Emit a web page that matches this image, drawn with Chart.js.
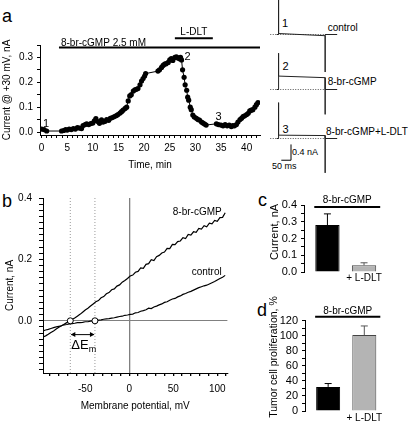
<!DOCTYPE html>
<html><head><meta charset="utf-8">
<script src="https://cdn.jsdelivr.net/npm/chart.js@4/dist/chart.umd.min.js"></script>
<style>
html,body{margin:0;padding:0;background:#fff;}
body{width:408px;height:422px;position:relative;overflow:hidden;font-family:"Liberation Sans",Arial,Helvetica,sans-serif;}
canvas{position:absolute;}
.t{position:absolute;white-space:nowrap;color:#000;line-height:1;}
.L{font-size:18px;}
</style></head><body>
<div class="t L" style="left:2px;top:7px;">a</div>
<div class="t L" style="left:2px;top:192px;">b</div>
<div class="t L" style="left:258px;top:191px;">c</div>
<div class="t L" style="left:257px;top:301px;">d</div>
<div class="t" style="left:282px;top:17.5px;font-size:11px;">1</div>
<div class="t" style="left:327.7px;top:22.5px;font-size:10px;">control</div>
<div class="t" style="left:282.5px;top:61px;font-size:11px;">2</div>
<div class="t" style="left:327.7px;top:76.7px;font-size:10px;">8-br-cGMP</div>
<div class="t" style="left:282.5px;top:123.5px;font-size:11px;">3</div>
<div class="t" style="left:326px;top:126.7px;font-size:10px;">8-br-cGMP+L-DLT</div>
<div class="t" style="left:292px;top:147.8px;font-size:9px;">0.4 nA</div>
<div class="t" style="left:272px;top:161.5px;font-size:9px;">50 ms</div>
<script>
// ---------- Panel a: time course ----------
const timeMin = [
  0, 0.5, 1.0,
  3.9, 4.3, 4.7, 5.0, 5.4, 5.8, 6.2, 6.6, 7.0, 7.4, 7.8,
  8.1, 8.5, 8.8, 9.2, 9.6, 10.0,
  10.3, 10.6, 11.0, 11.3, 11.7, 12.0,
  12.4, 12.7, 13.1, 13.4, 13.8, 14.2,
  14.6, 14.9, 15.3, 15.6, 15.9, 16.3,
  16.6, 16.9, 17.2, 17.5, 17.9, 18.2,
  18.5, 18.8, 19.2, 19.5, 19.8, 20.1, 20.3,
  22.7, 23.0, 23.4, 23.7, 24.0, 24.3,
  24.7, 25.0, 25.3, 25.6, 26.0, 26.3,
  26.6, 26.9, 27.1, 27.3, 27.5, 27.8,
  28.0, 28.3, 28.5, 28.7, 29.0, 29.2,
  29.5, 29.8, 30.2, 30.5, 30.8, 31.2,
  31.5, 31.8, 32.1,
  34.1, 34.5, 35.0, 35.4, 35.8, 36.2,
  36.6, 37.0, 37.3, 37.6, 38.0, 38.3,
  38.7, 39.0, 39.3, 39.6, 40.0, 40.3,
  40.6, 40.9, 41.2, 41.6, 41.9, 42.2
];
const currentAt30 = [
  0.012, 0.010, 0.004,
  0.004, 0.006, 0.010, 0.008, 0.012, 0.010, 0.014, 0.012, 0.018, 0.016, 0.014,
  0.026, 0.030, 0.033, 0.030, 0.034, 0.036,
  0.045, 0.054, 0.042, 0.035, 0.049, 0.040,
  0.043, 0.050, 0.047, 0.055, 0.058, 0.062,
  0.066, 0.070, 0.076, 0.082, 0.088, 0.095,
  0.100, 0.125, 0.145, 0.150, 0.165, 0.170,
  0.172, 0.175, 0.190, 0.205, 0.215, 0.225, 0.235,
  0.245, 0.250, 0.260, 0.268, 0.273, 0.275,
  0.280, 0.290, 0.295, 0.288, 0.300, 0.302,
  0.298, 0.295, 0.300, 0.290, 0.250, 0.220,
  0.190, 0.168, 0.140, 0.128, 0.100, 0.090,
  0.068, 0.060, 0.055, 0.050, 0.048, 0.040,
  0.036, 0.032, 0.028,
  0.033, 0.030, 0.028, 0.025, 0.030, 0.025,
  0.028, 0.022, 0.026, 0.025, 0.030, 0.040,
  0.050, 0.055, 0.062, 0.065, 0.070, 0.075,
  0.085, 0.088, 0.090, 0.100, 0.110, 0.118
];
const treatLabels = ['8-br-cGMP 2.5 mM', 'L-DLT'];
const treatStart = [3.4, 26.0];
const treatEnd = [42.6, 33.4];
const treatLevel = [0.340, 0.377];
const pointLabels = ['1', '2', '3'];
const pointLabelTime = [0.9, 27.9, 34.5];
const pointLabelValue = [0.033, 0.302, 0.062];

// ---------- Panel a: current traces (ms, nA) ----------
const traceTime = [-10, 0, 0, 0, 240, 240, 240, 302];
const trace1 = [0, 0, 0.95, 0.025, -0.030, -0.95, 0, 0];
const trace2 = [0, 0, 0.92, 0.340, 0.300, -0.63, 0, 0];
const trace3 = [0, 0, 0.91, 0.085, 0.075, -0.87, 0, 0];
const baselineTime = [-43, 302];
const baselineCurrent = [0, 0];
const scaleBarTime = [14, 64, 64];
const scaleBarCurrent = [-0.55, -0.55, -0.15];

// ---------- Panel b: I-V ----------
const ivVoltage = [
  -98,-95,-92,-89,-86,-83,-80,-77,-74,-71,
  -68,-65,-62,-59,-56,-53,-50,-47,-44,-41,
  -38,-35,-32,-29,-26,-23,-20,-17,-14,-11,
  -8,-5,-2,1,4,7,10,13,16,19,
  22,25,28,31,34,37,40,43,46,49,
  52,55,58,61,64,67,70,73,76,79,
  82,85,88,91,94,97,100,103,106,109
];
const ivCgmp = [
  -0.053,-0.049,-0.044,-0.038,-0.033,-0.027,-0.021,-0.016,-0.011,-0.006,
  -0.002,0.004,0.009,0.015,0.021,0.028,0.035,0.041,0.048,0.055,
  0.062,0.066,0.075,0.079,0.088,0.092,0.101,0.104,0.113,0.117,
  0.126,0.131,0.138,0.146,0.149,0.158,0.161,0.172,0.171,0.184,
  0.186,0.199,0.196,0.209,0.213,0.221,0.224,0.236,0.235,0.249,
  0.248,0.258,0.260,0.271,0.268,0.281,0.279,0.290,0.288,0.301,
  0.299,0.310,0.306,0.318,0.316,0.327,0.324,0.336,0.337,0.352
];
const ivControl = [
  -0.033,-0.030,-0.028,-0.025,-0.022,-0.020,-0.018,-0.016,-0.013,-0.012,
  -0.010,-0.009,-0.008,-0.006,-0.006,-0.005,-0.003,-0.003,-0.001,0.000,
  0.000,0.002,0.003,0.005,0.006,0.007,0.009,0.010,0.012,0.014,
  0.015,0.018,0.019,0.021,0.022,0.026,0.027,0.031,0.033,0.036,
  0.041,0.040,0.045,0.048,0.052,0.055,0.060,0.062,0.067,0.071,
  0.073,0.078,0.081,0.086,0.089,0.093,0.096,0.100,0.104,0.108,
  0.111,0.114,0.116,0.120,0.124,0.128,0.133,0.138,0.142,0.148
];
const reversalPotentials = [-67, -39];
const ivSeriesLabels = ['8-br-cGMP', 'control'];
const ivLabelVoltage = [105, 105];
const ivLabelCurrent = [0.353, 0.159];
const deltaArrowLevel = -0.045;
const ivYMin = -0.17, ivYMax = 0.4;

// ---------- Panels c, d ----------
const barPositions = [1, 2];
const barTickLabels = ['', '+ L-DLT'];
const currentMeans = [0.28, 0.04];
const currentErrors = [0.067, 0.015];
const prolifMeans = [32, 101];
const prolifErrors = [4.5, 12];
const bracketText = '8-br-cGMP';

// ---------- setup ----------
const FONT = '"Liberation Sans", Arial, Helvetica, sans-serif';
Chart.defaults.font.family = FONT;
Chart.defaults.font.size = 10;
Chart.defaults.color = '#000';
Chart.defaults.animation = false;
Chart.defaults.events = [];
Chart.defaults.plugins.legend.display = false;
Chart.defaults.plugins.tooltip.enabled = false;

function mk(left, top, w, h) {
  const c = document.createElement('canvas');
  c.width = w; c.height = h;
  c.style.left = left + 'px'; c.style.top = top + 'px';
  c.style.width = w + 'px'; c.style.height = h + 'px';
  document.body.appendChild(c);
  return c;
}
function seg(ctx, x1, y1, x2, y2) { ctx.beginPath(); ctx.moveTo(x1, y1); ctx.lineTo(x2, y2); ctx.stroke(); }
const isMult = (v, m) => { const r = v / m; return Math.abs(r - Math.round(r)) < 1e-6; };
const fmt = (v, d) => (Math.abs(v) < 1e-9 ? (0).toFixed(d) : v.toFixed(d));
const axisGrid = { drawOnChartArea: false, drawTicks: true, tickLength: 3, color: '#000', tickColor: '#000', lineWidth: 1 };
const axisBorder = { display: true, color: '#000', width: 1 };

// ---------- Chart a ----------
const annotA = {
  id: 'annotA',
  afterDraw(chart) {
    const { ctx } = chart; const x = chart.scales.x, y = chart.scales.y;
    ctx.save();
    ctx.strokeStyle = '#000'; ctx.fillStyle = '#000'; ctx.lineWidth = 2;
    for (let i = 0; i < treatLabels.length; i++) {
      const x1 = x.getPixelForValue(treatStart[i]), x2 = x.getPixelForValue(treatEnd[i]);
      const yy = y.getPixelForValue(treatLevel[i]);
      seg(ctx, x1, yy, x2, yy);
      ctx.font = '10px ' + FONT;
      ctx.textBaseline = 'alphabetic';
      if (i === 0) { ctx.textAlign = 'left'; ctx.fillText(treatLabels[i], x1 + 2, yy - 1.5); }
      else { ctx.textAlign = 'center'; ctx.fillText(treatLabels[i], (x1 + x2) / 2, yy - 3); }
    }
    ctx.font = '11px ' + FONT; ctx.textAlign = 'center'; ctx.textBaseline = 'middle';
    for (let i = 0; i < pointLabels.length; i++) {
      ctx.fillText(pointLabels[i], x.getPixelForValue(pointLabelTime[i]) + (i === 1 ? 3 : 0), y.getPixelForValue(pointLabelValue[i]));
    }
    ctx.restore();
  }
};
new Chart(mk(0, 0, 265, 180), {
  type: 'scatter',
  data: { datasets: [{
    data: timeMin.map((t, i) => ({ x: t, y: currentAt30[i] })),
    showLine: true, borderColor: '#000', borderWidth: 1,
    pointRadius: 2.6, pointBackgroundColor: '#000', pointBorderWidth: 0
  }] },
  options: {
    responsive: false,
    layout: { padding: { left: 0, right: 5, top: 45, bottom: 0 } },
    scales: {
      x: {
        type: 'linear', min: -0.3, max: 42.6,
        ticks: { stepSize: 1, autoSkip: false, includeBounds: false, maxRotation: 0, padding: 4,
          callback: v => (isMult(v, 5) ? String(v) : '') },
        grid: axisGrid, border: axisBorder,
        title: { display: true, text: 'Time, min', padding: { top: 0, bottom: 9 } },
        afterFit: s => { s.height = 45; }
      },
      y: {
        type: 'linear', min: -0.012, max: 0.35,
        ticks: { stepSize: 0.05, autoSkip: false, includeBounds: false, padding: 4,
          callback: v => (isMult(v, 0.1) ? fmt(v, 1) : '') },
        grid: axisGrid, border: axisBorder,
        title: { display: true, text: 'Current @ +30 mV, nA', padding: { top: 1, bottom: 0 } },
        afterFit: s => { s.width = 40; }
      }
    }
  },
  plugins: [annotA]
});

// ---------- Traces ----------
function traceChart(top, values, extra) {
  const ds = [
    { data: traceTime.map((t, i) => ({ x: t, y: values[i] })), showLine: true, borderColor: '#222', borderWidth: 1, pointRadius: 0 },
    { data: baselineTime.map((t, i) => ({ x: t, y: baselineCurrent[i] })), showLine: true, borderColor: '#555', borderWidth: 1, borderDash: [1, 1.5], pointRadius: 0 }
  ];
  if (extra) ds.push(extra);
  new Chart(mk(265, top, 143, 77), {
    type: 'scatter',
    data: { datasets: ds },
    options: {
      responsive: false,
      layout: { padding: 0 },
      scales: {
        x: { type: 'linear', display: false, min: -70, max: 667 },
        y: { type: 'linear', display: false, min: -1.0, max: 0.95 }
      }
    }
  });
}
traceChart(-3, trace1);
traceChart(52, trace2);
traceChart(101, trace3, {
  data: scaleBarTime.map((t, i) => ({ x: t, y: scaleBarCurrent[i] })),
  showLine: true, borderColor: '#000', borderWidth: 1, pointRadius: 0
});

// ---------- Chart b ----------
const annotB = {
  id: 'annotB',
  afterDatasetsDraw(chart) {
    const { ctx } = chart; const x = chart.scales.x, y = chart.scales.y;
    ctx.save();
    ctx.strokeStyle = '#000'; ctx.fillStyle = '#000'; ctx.lineWidth = 1;
    const x1 = x.getPixelForValue(reversalPotentials[0]), x2 = x.getPixelForValue(reversalPotentials[1]);
    const yy = y.getPixelForValue(deltaArrowLevel);
    seg(ctx, x1 + 1, yy, x2 - 1, yy);
    ctx.beginPath(); ctx.moveTo(x1 + 0.5, yy); ctx.lineTo(x1 + 5, yy - 2.5); ctx.lineTo(x1 + 5, yy + 2.5); ctx.closePath(); ctx.fill();
    ctx.beginPath(); ctx.moveTo(x2 - 0.5, yy); ctx.lineTo(x2 - 5, yy - 2.5); ctx.lineTo(x2 - 5, yy + 2.5); ctx.closePath(); ctx.fill();
    ctx.textBaseline = 'alphabetic'; ctx.textAlign = 'left';
    ctx.font = '13px ' + FONT;
    const tx = x1 + 1, ty = y.getPixelForValue(-0.093);
    ctx.fillText('\u0394E', tx, ty);
    const w = ctx.measureText('\u0394E').width;
    ctx.font = '9px ' + FONT;
    ctx.fillText('m', tx + w, ty + 2.5);
    ctx.font = '10px ' + FONT; ctx.textAlign = 'right'; ctx.textBaseline = 'middle';
    for (let i = 0; i < ivSeriesLabels.length; i++) {
      ctx.fillText(ivSeriesLabels[i], x.getPixelForValue(ivLabelVoltage[i]), y.getPixelForValue(ivLabelCurrent[i]));
    }
    ctx.restore();
  }
};
const zeroColor = c => (c.tick && Math.abs(c.tick.value) < 1e-9 ? '#808080' : 'rgba(0,0,0,0)');
new Chart(mk(0, 185, 265, 237), {
  type: 'scatter',
  data: { datasets: [
    { data: reversalPotentials.map(v => ({ x: v, y: 0 })), pointRadius: 3, pointBackgroundColor: '#fff', pointBorderColor: '#000', pointBorderWidth: 1 },
    { data: ivVoltage.map((v, i) => ({ x: v, y: ivCgmp[i] })), showLine: true, borderColor: '#000', borderWidth: 1.2, pointRadius: 0 },
    { data: ivVoltage.map((v, i) => ({ x: v, y: ivControl[i] })), showLine: true, borderColor: '#000', borderWidth: 1.2, pointRadius: 0 },
    { data: [{ x: reversalPotentials[0], y: ivYMin }, { x: reversalPotentials[0], y: ivYMax }], showLine: true, borderColor: '#999', borderWidth: 1, borderDash: [1, 2], pointRadius: 0 },
    { data: [{ x: reversalPotentials[1], y: ivYMin }, { x: reversalPotentials[1], y: ivYMax }], showLine: true, borderColor: '#999', borderWidth: 1, borderDash: [1, 2], pointRadius: 0 }
  ] },
  options: {
    responsive: false,
    layout: { padding: { left: 0, right: 37.6, top: 11, bottom: 0 } },
    scales: {
      x: {
        type: 'linear', min: -98, max: 111.5,
        ticks: { stepSize: 10, autoSkip: false, includeBounds: false, maxRotation: 0, padding: 7,
          callback: v => (isMult(v, 50) ? fmt(v, 0) : '') },
        grid: { drawOnChartArea: true, drawTicks: true, tickLength: 3, color: zeroColor, tickColor: '#000', lineWidth: 1.3 },
        border: axisBorder,
        title: { display: true, text: 'Membrane potential, mV', padding: { top: 0, bottom: 10 } },
        afterFit: s => { s.height = 49; }
      },
      y: {
        type: 'linear', min: ivYMin, max: ivYMax,
        ticks: { stepSize: 0.02, autoSkip: false, includeBounds: false, padding: 7,
          callback: v => (isMult(v, 0.2) ? fmt(v, 1) : '') },
        grid: { drawOnChartArea: true, drawTicks: true, tickLength: 4, color: zeroColor, tickColor: '#000', lineWidth: 1 },
        border: axisBorder,
        title: { display: true, text: 'Current, nA', padding: { top: 4, bottom: 0 } },
        afterFit: s => { s.width = 43; }
      }
    }
  },
  plugins: [annotB]
});

// ---------- Charts c, d ----------
function barAnnot(means, errors, bracketLevel, textGap, title, titleSize, titleX, titleY) {
  return {
    id: 'barAnnot',
    afterDatasetsDraw(chart) {
      const { ctx } = chart; const y = chart.scales.y;
      const meta = chart.getDatasetMeta(0);
      ctx.save();
      ctx.lineWidth = 1;
      const errColors = ['#000', '#555'];
      meta.data.forEach((bar, i) => {
        const top = y.getPixelForValue(means[i] + errors[i]);
        ctx.strokeStyle = errColors[i];
        seg(ctx, bar.x, bar.y, bar.x, top);
        seg(ctx, bar.x - 3.5, top, bar.x + 3.5, top);
      });
      const b0 = meta.data[0], b1 = meta.data[1];
      const x1 = b0.x - b0.width / 2 - 1, x2 = b1.x + b1.width / 2 + 4;
      const yy = y.getPixelForValue(bracketLevel);
      ctx.strokeStyle = '#000'; ctx.lineWidth = 2;
      seg(ctx, x1, yy, x2, yy);
      ctx.fillStyle = '#000'; ctx.font = '10px ' + FONT; ctx.textAlign = 'center'; ctx.textBaseline = 'alphabetic';
      ctx.fillText(bracketText, (x1 + x2) / 2, yy - textGap);
      // axis title (positioned like the original, slightly above the area centre)
      ctx.translate(titleX, titleY); ctx.rotate(-Math.PI / 2);
      ctx.font = titleSize + 'px ' + FONT; ctx.textAlign = 'center'; ctx.textBaseline = 'middle';
      ctx.fillText(title, 0, 0);
      ctx.restore();
    }
  };
}
function barChart(top, h, padTop, xH, yW, means, errors, yMax, step, labelStep, dec, title, titleSize, titleX, titleY, bracketLevel, textGap, labPad) {
  new Chart(mk(265, top, 143, h), {
    type: 'bar',
    data: { datasets: [{
      data: barPositions.map((p, i) => ({ x: p, y: means[i] })),
      backgroundColor: ['#000', '#b4b4b4'], borderColor: ['#000', '#444'], borderWidth: 1,
      barPercentage: 0.664, categoryPercentage: 1
    }] },
    options: {
      responsive: false,
      layout: { padding: { left: 0, right: 22, top: padTop, bottom: 0 } },
      scales: {
        x: { type: 'linear', min: 0.36, max: 2.6, offset: false,
          grid: { display: false, drawTicks: false }, border: { display: false },
          ticks: { stepSize: 1, includeBounds: false, autoSkip: false, padding: labPad, maxRotation: 0,
            callback: v => (isMult(v, 1) && barTickLabels[Math.round(v) - 1] !== undefined ? barTickLabels[Math.round(v) - 1] : '') },
          afterFit: s => { s.height = xH; } },
        y: { min: 0, max: yMax,
          ticks: { stepSize: step, autoSkip: false, padding: 4, font: { size: 11 },
            callback: v => (isMult(v, labelStep) ? fmt(v, dec) : '') },
          grid: axisGrid, border: axisBorder,
          title: { display: false, text: title },
          afterFit: s => { s.width = yW; } }
      }
    },
    plugins: [barAnnot(means, errors, bracketLevel, textGap, title, titleSize, titleX, titleY)]
  });
}
barChart(185, 100, 20, 13, 39, currentMeans, currentErrors, 0.4, 0.05, 0.1, 1, 'Current, nA', 11, 10, 47, 0.388, 4, 0);
barChart(290, 132, 30.7, 11, 40, prolifMeans, prolifErrors, 120, 10, 20, 0, 'Tumor cell proliferation, %', 10.5, 9, 67, 125.3, 3, 1);
</script>
</body></html>
